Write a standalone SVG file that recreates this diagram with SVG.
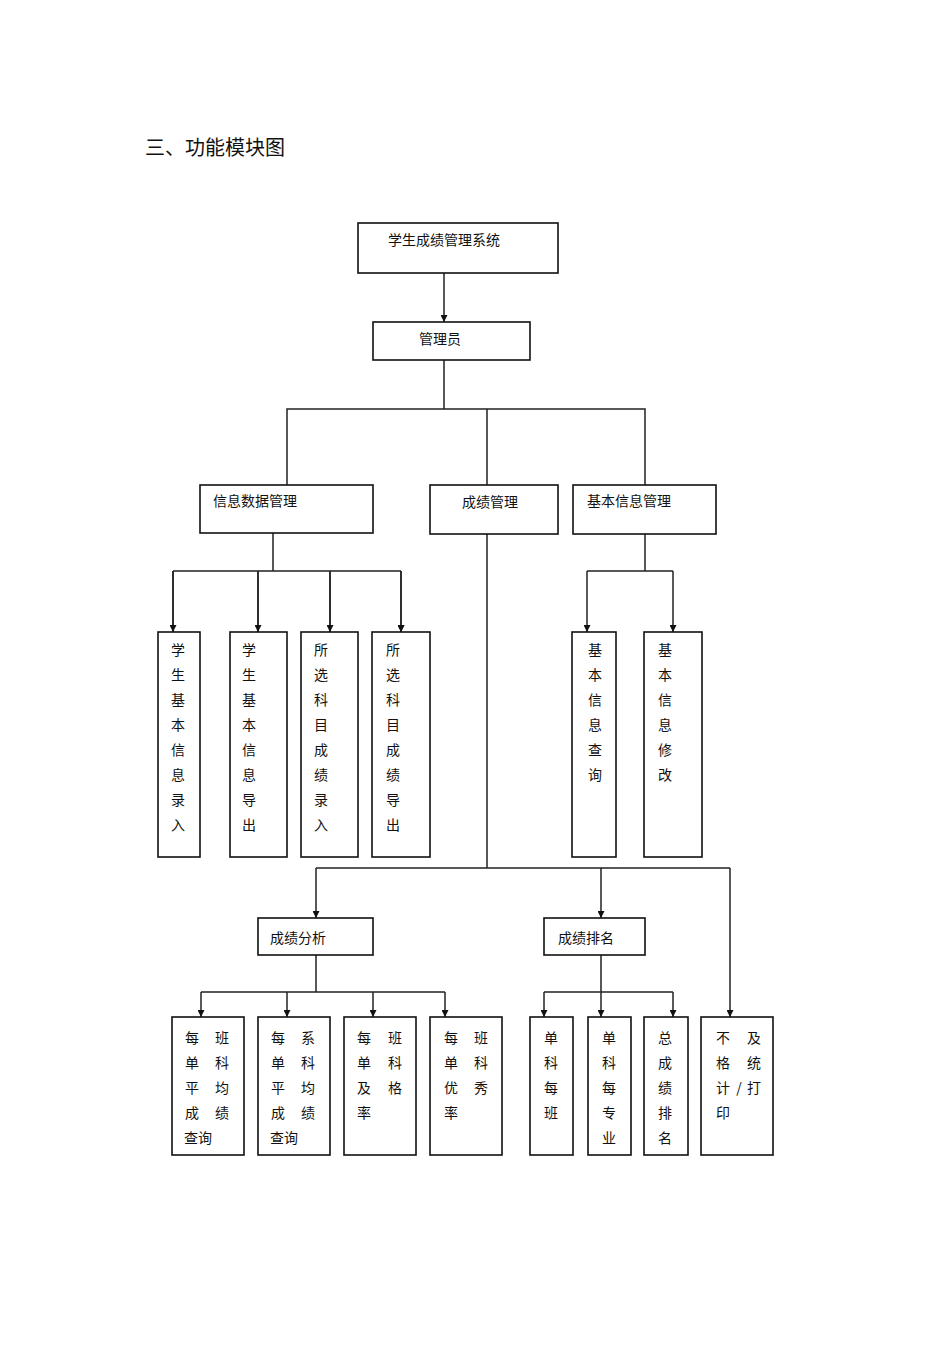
<svg xmlns="http://www.w3.org/2000/svg" width="950" height="1345" viewBox="0 0 950 1345">
<style>
text{font-family:"Noto Sans CJK SC","Liberation Sans",sans-serif;font-size:14px;fill:#111}
.t{font-size:20px}
.c{text-anchor:middle}
rect{fill:#fff;stroke:#111;stroke-width:1.6}
.l{fill:none;stroke:#222;stroke-width:1.5}
</style>
<defs><marker id="a" viewBox="0 0 10 10" refX="10" refY="5" markerWidth="7" markerHeight="7" orient="auto" markerUnits="userSpaceOnUse"><path d="M0,0L10,5L0,10z" fill="#111"/></marker></defs>
<rect width="950" height="1345" style="stroke:none"/>
<text class="t" x="145" y="155">三、功能模块图</text>
<g id="connectors" class="l">
<path class="l" d="M444,273V322" marker-end="url(#a)"/>
<path class="l" d="M444,360V409M287,485V409H645V485M487,409V485"/>
<path class="l" d="M273,533V571M173,571H401"/>
<path class="l" d="M173,571V632M258,571V632M330,571V632M401,571V632" marker-end="url(#a)"/>
<path class="l" d="M173,571V632" marker-end="url(#a)"/>
<path class="l" d="M258,571V632" marker-end="url(#a)"/>
<path class="l" d="M330,571V632" marker-end="url(#a)"/>
<path class="l" d="M401,571V632" marker-end="url(#a)"/>
<path class="l" d="M645,534V571M587,571H673"/>
<path class="l" d="M587,571V632" marker-end="url(#a)"/>
<path class="l" d="M673,571V632" marker-end="url(#a)"/>
<path class="l" d="M487,534V868M316,868H730"/>
<path class="l" d="M316,868V918" marker-end="url(#a)"/>
<path class="l" d="M601,868V918" marker-end="url(#a)"/>
<path class="l" d="M730,868V1017" marker-end="url(#a)"/>
<path class="l" d="M316,955V992M201,992H445"/>
<path class="l" d="M201,992V1017" marker-end="url(#a)"/>
<path class="l" d="M287,992V1017" marker-end="url(#a)"/>
<path class="l" d="M373,992V1017" marker-end="url(#a)"/>
<path class="l" d="M445,992V1017" marker-end="url(#a)"/>
<path class="l" d="M601,955V992M544,992H673"/>
<path class="l" d="M544,992V1017" marker-end="url(#a)"/>
<path class="l" d="M601,992V1017" marker-end="url(#a)"/>
<path class="l" d="M673,992V1017" marker-end="url(#a)"/>
</g>
<g id="n_root"><rect x="358" y="223" width="200" height="50"/><text x="388" y="245">学生成绩管理系统</text></g>
<g id="n_admin"><rect x="373" y="322" width="157" height="38"/><text x="419" y="344">管理员</text></g>
<g id="n_info"><rect x="200" y="485" width="173" height="48"/><text x="213" y="506">信息数据管理</text></g>
<g id="n_score"><rect x="430" y="485" width="128" height="49"/><text x="462" y="507">成绩管理</text></g>
<g id="n_basic"><rect x="573" y="485" width="143" height="49"/><text x="587" y="506">基本信息管理</text></g>
<g id="n_i1"><rect x="158" y="632" width="42" height="225"/><text class="c" x="178" y="655">学</text><text class="c" x="178" y="680">生</text><text class="c" x="178" y="705">基</text><text class="c" x="178" y="730">本</text><text class="c" x="178" y="755">信</text><text class="c" x="178" y="780">息</text><text class="c" x="178" y="805">录</text><text class="c" x="178" y="830">入</text></g>
<g id="n_i2"><rect x="230" y="632" width="57" height="225"/><text class="c" x="249" y="655">学</text><text class="c" x="249" y="680">生</text><text class="c" x="249" y="705">基</text><text class="c" x="249" y="730">本</text><text class="c" x="249" y="755">信</text><text class="c" x="249" y="780">息</text><text class="c" x="249" y="805">导</text><text class="c" x="249" y="830">出</text></g>
<g id="n_i3"><rect x="301" y="632" width="57" height="225"/><text class="c" x="321" y="655">所</text><text class="c" x="321" y="680">选</text><text class="c" x="321" y="705">科</text><text class="c" x="321" y="730">目</text><text class="c" x="321" y="755">成</text><text class="c" x="321" y="780">绩</text><text class="c" x="321" y="805">录</text><text class="c" x="321" y="830">入</text></g>
<g id="n_i4"><rect x="372" y="632" width="58" height="225"/><text class="c" x="393" y="655">所</text><text class="c" x="393" y="680">选</text><text class="c" x="393" y="705">科</text><text class="c" x="393" y="730">目</text><text class="c" x="393" y="755">成</text><text class="c" x="393" y="780">绩</text><text class="c" x="393" y="805">导</text><text class="c" x="393" y="830">出</text></g>
<g id="n_b1"><rect x="572" y="632" width="44" height="225"/><text class="c" x="595" y="655">基</text><text class="c" x="595" y="680">本</text><text class="c" x="595" y="705">信</text><text class="c" x="595" y="730">息</text><text class="c" x="595" y="755">查</text><text class="c" x="595" y="780">询</text></g>
<g id="n_b2"><rect x="644" y="632" width="58" height="225"/><text class="c" x="665" y="655">基</text><text class="c" x="665" y="680">本</text><text class="c" x="665" y="705">信</text><text class="c" x="665" y="730">息</text><text class="c" x="665" y="755">修</text><text class="c" x="665" y="780">改</text></g>
<g id="n_ana"><rect x="258" y="918" width="115" height="37"/><text x="270" y="943">成绩分析</text></g>
<g id="n_rank"><rect x="544" y="918" width="101" height="37"/><text x="558" y="943">成绩排名</text></g>
<g id="n_a1"><rect x="172" y="1017" width="72" height="138"/><text class="c" x="192" y="1043">每</text><text class="c" x="222" y="1043">班</text><text class="c" x="192" y="1068">单</text><text class="c" x="222" y="1068">科</text><text class="c" x="192" y="1093">平</text><text class="c" x="222" y="1093">均</text><text class="c" x="192" y="1118">成</text><text class="c" x="222" y="1118">绩</text><text x="184" y="1143">查询</text></g>
<g id="n_a2"><rect x="258" y="1017" width="72" height="138"/><text class="c" x="278" y="1043">每</text><text class="c" x="308" y="1043">系</text><text class="c" x="278" y="1068">单</text><text class="c" x="308" y="1068">科</text><text class="c" x="278" y="1093">平</text><text class="c" x="308" y="1093">均</text><text class="c" x="278" y="1118">成</text><text class="c" x="308" y="1118">绩</text><text x="270" y="1143">查询</text></g>
<g id="n_a3"><rect x="344" y="1017" width="72" height="138"/><text class="c" x="364" y="1043">每</text><text class="c" x="395" y="1043">班</text><text class="c" x="364" y="1068">单</text><text class="c" x="395" y="1068">科</text><text class="c" x="364" y="1093">及</text><text class="c" x="395" y="1093">格</text><text class="c" x="364" y="1118">率</text></g>
<g id="n_a4"><rect x="430" y="1017" width="72" height="138"/><text class="c" x="451" y="1043">每</text><text class="c" x="481" y="1043">班</text><text class="c" x="451" y="1068">单</text><text class="c" x="481" y="1068">科</text><text class="c" x="451" y="1093">优</text><text class="c" x="481" y="1093">秀</text><text class="c" x="451" y="1118">率</text></g>
<g id="n_r1"><rect x="530" y="1017" width="43" height="138"/><text class="c" x="551" y="1043">单</text><text class="c" x="551" y="1068">科</text><text class="c" x="551" y="1093">每</text><text class="c" x="551" y="1118">班</text></g>
<g id="n_r2"><rect x="588" y="1017" width="43" height="138"/><text class="c" x="609" y="1043">单</text><text class="c" x="609" y="1068">科</text><text class="c" x="609" y="1093">每</text><text class="c" x="609" y="1118">专</text><text class="c" x="609" y="1143">业</text></g>
<g id="n_r3"><rect x="644" y="1017" width="44" height="138"/><text class="c" x="665" y="1043">总</text><text class="c" x="665" y="1068">成</text><text class="c" x="665" y="1093">绩</text><text class="c" x="665" y="1118">排</text><text class="c" x="665" y="1143">名</text></g>
<g id="n_p"><rect x="701" y="1017" width="72" height="138"/><text class="c" x="723" y="1043">不</text><text class="c" x="754" y="1043">及</text><text class="c" x="723" y="1068">格</text><text class="c" x="754" y="1068">统</text><text class="c" x="723" y="1093">计</text><text class="c" x="739" y="1093">/</text><text class="c" x="754" y="1093">打</text><text class="c" x="723" y="1118">印</text></g>
</svg>
